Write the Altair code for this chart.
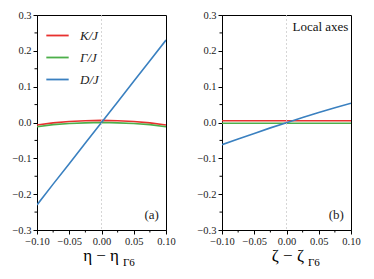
import altair as alt
import pandas as pd

x_vals = [-0.1, -0.075, -0.05, -0.025, 0.0, 0.025, 0.05, 0.075, 0.1]

# Panel (a): vs eta - eta_Gamma6
a_K = [-0.007, -0.001, 0.003, 0.005, 0.006, 0.005, 0.003, -0.001, -0.007]
a_G = [-0.012, -0.006, -0.003, -0.001, 0.0, -0.001, -0.003, -0.006, -0.012]
a_D = [-0.23, -0.172, -0.115, -0.057, 0.0, 0.057, 0.115, 0.172, 0.23]

# Panel (b): vs zeta - zeta_Gamma6 (local axes)
b_K = [0.005, 0.005, 0.005, 0.005, 0.005, 0.005, 0.005, 0.005, 0.005]
b_G = [-0.002, -0.002, -0.002, -0.002, -0.002, -0.002, -0.002, -0.002, -0.002]
b_D = [-0.062, -0.046, -0.031, -0.015, -0.001, 0.014, 0.028, 0.041, 0.054]

series = ["K/J", "Γ/J", "D/J"]
colors = ["#e8312f", "#4daf4a", "#3a80c0"]

x_major = [-0.1, -0.05, 0.0, 0.05, 0.1]
x_minor = [-0.075, -0.025, 0.025, 0.075]
y_major = [-0.3, -0.2, -0.1, 0.0, 0.1, 0.2, 0.3]
y_minor = [-0.25, -0.15, -0.05, 0.05, 0.15, 0.25]

SERIF = "Liberation Serif"
W, H = 129, 215


def make_df(K, G, D):
    rows = []
    for name, vals in zip(series, [K, G, D]):
        for xv, yv in zip(x_vals, vals):
            rows.append({"x": xv, "y": yv, "s": name})
    return pd.DataFrame(rows)


def panel(df, tag, label_main, show_legend, extra_text=None):
    xs = alt.Scale(domain=[-0.1, 0.1], nice=False, zero=False)
    ys = alt.Scale(domain=[-0.3, 0.3], nice=False, zero=False)
    common = dict(title=None, grid=False, tickSize=4, labelFont=SERIF, labelFontSize=10.5,
                  labelColor="#222", domainColor="black", tickColor="black",
                  labelPadding=2, labelFlush=False, labelOverlap=False,
                  labelExpr="replace(datum.label, '-', '−')")
    xaxis = alt.Axis(values=x_major, format=".2f", **common)
    yaxis = alt.Axis(values=y_major, format=".1f", **common)

    legend = alt.Legend(
        title=None, orient="top-left", offset=8, symbolType="stroke",
        symbolStrokeWidth=1.8, symbolSize=500, labelFont=SERIF, labelFontSize=13,
        labelFontStyle="italic", labelColor="#222", rowPadding=2, labelOffset=10,
    ) if show_legend else None

    lines = alt.Chart(df).mark_line(strokeWidth=1.6, clip=True).encode(
        x=alt.X("x:Q", scale=xs, axis=xaxis),
        y=alt.Y("y:Q", scale=ys, axis=yaxis),
        color=alt.Color("s:N", scale=alt.Scale(domain=series, range=colors),
                        sort=series, legend=legend),
    )

    zero = alt.Chart(pd.DataFrame({"zx": [0.0]})).mark_rule(
        color="#cccccc", strokeDash=[2, 2], strokeWidth=0.8
    ).encode(x=alt.X("zx:Q", axis=None))

    xmin_t = alt.Chart(pd.DataFrame({"mx": x_minor})).mark_rule(
        color="black", strokeWidth=1
    ).encode(x=alt.X("mx:Q", axis=None), y=alt.value(H), y2=alt.value(H + 2.5))
    ymin_t = alt.Chart(pd.DataFrame({"my": y_minor})).mark_rule(
        color="black", strokeWidth=1
    ).encode(y=alt.Y("my:Q", axis=None), x=alt.value(0), x2=alt.value(-2.5))

    tag_t = alt.Chart(pd.DataFrame({"tx": [0.089], "ty": [-0.27], "t": [tag]})).mark_text(
        align="right", baseline="alphabetic", font=SERIF, fontSize=13, color="#222"
    ).encode(x=alt.X("tx:Q", axis=None), y=alt.Y("ty:Q", axis=None), text="t:N")

    main_t = alt.Chart(pd.DataFrame({"t": [label_main]})).mark_text(
        align="right", baseline="alphabetic", font=SERIF, fontSize=17, color="black"
    ).encode(x=alt.value(82), y=alt.value(246), text="t:N")
    sub_t = alt.Chart(pd.DataFrame({"t": ["Γ6"]})).mark_text(
        align="left", baseline="alphabetic", font=SERIF, fontSize=11, color="black"
    ).encode(x=alt.value(86), y=alt.value(251), text="t:N")

    layers = [lines, zero, xmin_t, ymin_t, tag_t, main_t, sub_t]
    if extra_text:
        layers.append(
            alt.Chart(pd.DataFrame({"ex": [0.096], "ey": [0.256], "t": [extra_text]})).mark_text(
                align="right", baseline="alphabetic", font=SERIF, fontSize=13, color="#111"
            ).encode(x=alt.X("ex:Q", axis=None), y=alt.Y("ey:Q", axis=None), text="t:N")
        )
    return alt.layer(*layers).resolve_axis(x="independent", y="independent").properties(
        width=W, height=H)


left = panel(make_df(a_K, a_G, a_D), "(a)", "η − η", True)
right = panel(make_df(b_K, b_G, b_D), "(b)", "ζ − ζ", False, "Local axes")

chart = alt.hconcat(left, right, spacing=20).resolve_scale(color="independent").configure_view(
    stroke="black", strokeWidth=1
).properties(
    padding={"left": 3, "top": 1, "right": 0, "bottom": 0}, background="white")

chart.save("out.html", embed_options={"renderer": "svg", "actions": False})
